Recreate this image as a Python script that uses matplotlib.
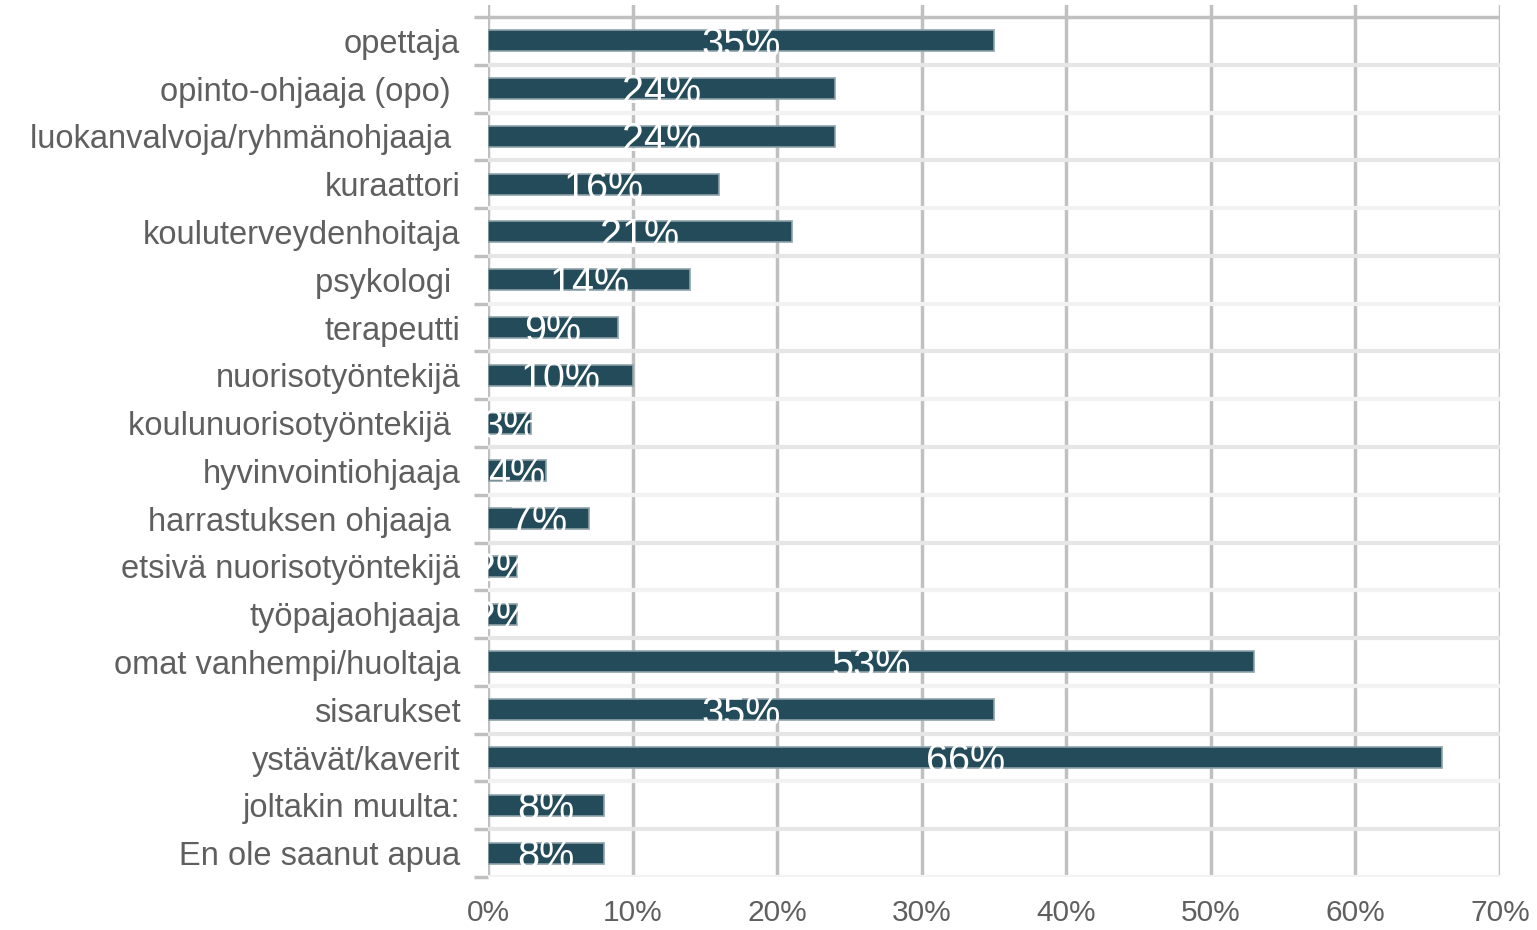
import matplotlib.pyplot as plt
from matplotlib.ticker import FuncFormatter

plt.rcParams['font.family'] = ['Liberation Sans', 'DejaVu Sans']

# data
kategoriat = ['opettaja', 'opinto-ohjaaja (opo) ', 'luokanvalvoja/ryhmänohjaaja ',
              'kuraattori', 'kouluterveydenhoitaja', 'psykologi ', 'terapeutti',
              'nuorisotyöntekijä', 'koulunuorisotyöntekijä ', 'hyvinvointiohjaaja',
              'harrastuksen ohjaaja ', 'etsivä nuorisotyöntekijä', 'työpajaohjaaja',
              'omat vanhempi/huoltaja', 'sisarukset', 'ystävät/kaverit',
              'joltakin muulta:', 'En ole saanut apua']
osuudet = [35, 24, 24, 16, 21, 14, 9, 10, 3, 4, 7, 2, 2, 53, 35, 66, 8, 8]
xtiks = [0, 10, 20, 30, 40, 50, 60, 70]

fig = plt.figure(figsize=(15.37, 9.3), dpi=100)
ax = fig.add_axes([488 / 1537, 1 - 877 / 930, 1012 / 1537, 872 / 930])

n = len(kategoriat)
y = list(range(n))
bars = ax.barh(y, osuudet, height=0.44, color='#234b5a', edgecolor='#8ea2aa',
               linewidth=1.2, zorder=3)

# arvot palkkien sisaan (leikattu palkkiin)
for b, v in zip(bars, osuudet):
    t = ax.text(b.get_x() + b.get_width() / 2, b.get_y() + b.get_height() / 2 + 0.08,
                f'{v}%', color='white', fontsize=28.5, ha='center', va='center', zorder=4)
    t.set_clip_path(b)

ax.set_xlim(0, 70)
ax.set_ylim(n - 0.5, -0.75)
ax.set_xticks(xtiks)
ax.xaxis.set_major_formatter(FuncFormatter(lambda v, p: f'{int(v)}%'))
ax.set_yticks(y)
ax.set_yticklabels(kategoriat)
ax.set_yticks([i - 0.5 for i in range(n + 1)], minor=True)

# vaakaviivat kategorioiden valissa
for i in range(1, n + 1):
    col = '#e6e6e6' if i % 2 == 1 else '#f2f2f2'
    ax.axhline(i - 0.5, color=col, linewidth=3, zorder=1)
ax.axhline(-0.5, color='#c0c0c0', linewidth=2.5, zorder=2)

ax.grid(axis='x', color='#c0c0c0', linewidth=2.5, zorder=2)
ax.set_axisbelow(True)

for s in ax.spines.values():
    s.set_visible(False)

ax.tick_params(axis='y', which='major', length=0, pad=20, labelsize=23.5,
               labelcolor='#5f5f5f')
ax.tick_params(axis='y', which='minor', length=10, width=2.5, color='#c0c0c0')
ax.tick_params(axis='x', length=0, pad=16, labelsize=21.5, labelcolor='#5f5f5f')

fig.savefig('out.png', dpi=100)
